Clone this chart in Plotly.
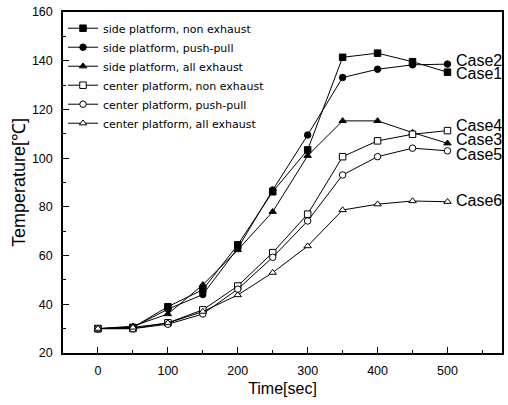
import plotly.graph_objects as go

time_s = [0, 50, 100, 150, 200, 250, 300, 350, 400, 450, 500]
side_non_exhaust = [30, 30.5, 39, 46, 64.4, 86.2, 103.4, 141.4, 143.1, 139.6, 135.3]
side_push_pull = [30, 30.5, 38, 44, 63, 86.9, 109.5, 133.1, 136.5, 138.3, 138.6]
side_all_exhaust = [30, 31, 36, 48, 62.3, 78, 101, 115.3, 115.3, 110.5, 106.1]
center_non_exhaust = [30, 30, 32.4, 37.7, 47.5, 61.2, 77, 100.6, 107.1, 109.8, 111.3]
center_push_pull = [30, 30, 31.8, 36, 46.2, 59.3, 74.2, 93.1, 100.6, 104.1, 103]
center_all_exhaust = [30, 30.5, 32.3, 37, 43.8, 53, 63.9, 78.7, 81.1, 82.4, 82.1]

series_names = ["side platform, non exhaust", "side platform, push-pull", "side platform, all exhaust",
                "center platform, non exhaust", "center platform, push-pull", "center platform, all exhaust"]
series_values = [side_non_exhaust, side_push_pull, side_all_exhaust,
                 center_non_exhaust, center_push_pull, center_all_exhaust]

case_labels = ["Case2", "Case1", "Case4", "Case3", "Case5", "Case6"]
case_label_values = [140, 134.6, 113.2, 107.5, 101.6, 82.5]

x_ticks = [0, 100, 200, 300, 400, 500]
y_ticks = [20, 40, 60, 80, 100, 120, 140, 160]

styles = [
    dict(symbol="square", color="black"),
    dict(symbol="circle", color="black"),
    dict(symbol="triangle-up", color="black"),
    dict(symbol="square", color="white"),
    dict(symbol="circle", color="white"),
    dict(symbol="triangle-up", color="white"),
]

fig = go.Figure()
for name, vals, st in zip(series_names, series_values, styles):
    fig.add_trace(go.Scatter(
        x=time_s, y=vals, name=name, mode="lines+markers",
        line=dict(color="black", width=1),
        marker=dict(symbol=st["symbol"], color=st["color"], size=6.5,
                    line=dict(color="black", width=1)),
    ))

for lab, v in zip(case_labels, case_label_values):
    fig.add_annotation(x=509, y=v, text=lab, showarrow=False, xanchor="left",
                       yanchor="middle", font=dict(size=16, color="black",
                                                   family="Liberation Sans, Arial"))

fig.update_layout(
    width=508, height=405,
    margin=dict(l=63, r=6, t=12, b=52),
    paper_bgcolor="white", plot_bgcolor="white",
    font=dict(family="Liberation Sans, Arial", color="black"),
    showlegend=True,
    legend=dict(x=0.0, y=0.995, xanchor="left", yanchor="top",
                bgcolor="rgba(0,0,0,0)",
                font=dict(size=11, color="black", family="DejaVu Sans, Liberation Sans"),
                tracegroupgap=0, itemwidth=30),
    xaxis=dict(range=[-50, 578], tickvals=x_ticks, ticks="inside", ticklen=6,
               tickwidth=1.2, tickcolor="black", automargin=False,
               minor=dict(dtick=50, ticks="inside", ticklen=3, tickcolor="black"),
               showline=True, linecolor="black", linewidth=1.5, mirror=True,
               showgrid=False, zeroline=False,
               tickfont=dict(size=12.5), ticklabelstandoff=5,
               title=dict(text="Time[sec]", font=dict(size=16), standoff=6)),
    yaxis=dict(range=[20, 160], tickvals=y_ticks, ticks="inside", ticklen=6,
               tickwidth=1.2, tickcolor="black", automargin=False,
               minor=dict(dtick=10, ticks="inside", ticklen=3, tickcolor="black"),
               showline=True, linecolor="black", linewidth=1.5, mirror=True,
               showgrid=False, zeroline=False, ticklabeloverflow="allow",
               tickfont=dict(size=12.5), ticklabelstandoff=6,
               title=dict(text="Temperature[℃]", font=dict(size=18), standoff=2)),
)

# remove the browser's default 8px page margin so the figure fills the window
fig.write_html("out.html", config={"displayModeBar": False},
               post_script="document.body.style.margin='0';document.body.style.overflow='hidden';")
